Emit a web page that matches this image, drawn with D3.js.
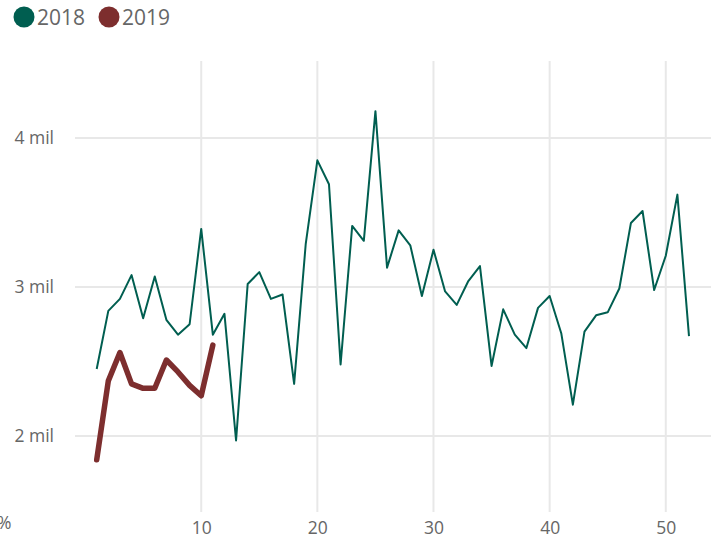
<!DOCTYPE html>
<html>
<head>
<meta charset="utf-8">
<script src="https://cdn.jsdelivr.net/npm/d3@7"></script>
<style>
  body { margin: 0; background: #fff; }
  svg { display: block; font-family: "Segoe UI", "Open Sans", sans-serif; }
</style>
</head>
<body>
<svg id="chart" width="711" height="544"></svg>
<script>
// weekly values, in millions
const weeks2018 = d3.range(1, 53)
const values2018 = [2.45, 2.84, 2.92, 3.08, 2.79, 3.07, 2.78, 2.68, 2.75, 3.39,
  2.68, 2.82, 1.97, 3.02, 3.10, 2.92, 2.95, 2.35, 3.29, 3.85,
  3.69, 2.48, 3.41, 3.31, 4.18, 3.13, 3.38, 3.28, 2.94, 3.25,
  2.97, 2.88, 3.04, 3.14, 2.47, 2.85, 2.68, 2.59, 2.86, 2.94,
  2.69, 2.21, 2.70, 2.81, 2.83, 2.99, 3.43, 3.51, 2.98, 3.21,
  3.62, 2.67]
const weeks2019 = d3.range(1, 12)
const values2019 = [1.84, 2.37, 2.56, 2.35, 2.32, 2.32, 2.51, 2.43, 2.34, 2.27, 2.61]

const xTicks = [10, 20, 30, 40, 50]
const yTicks = [2, 3, 4]
const seriesNames = ['2018', '2019']
const colors = {'2018': '#005e50', '2019': '#7d2e2e'}

const svg = d3.select('#chart')

// plot area
const plotLeft = 75, plotRight = 711, plotTop = 61, plotBottom = 512

const x = d3.scaleLinear().domain([1, 52]).range([96.7, 689])
const y = d3.scaleLinear().domain([1.5, 4.5]).range([510.5, 63.5])

// GRID
svg.append('g')
  .selectAll('line')
  .data(yTicks)
  .join('line')
  .attr('x1', plotLeft).attr('x2', plotRight)
  .attr('y1', d => y(d)).attr('y2', d => y(d))
  .attr('stroke', '#e8e8e8')
  .attr('stroke-width', 2)

svg.append('g')
  .selectAll('line')
  .data(xTicks)
  .join('line')
  .attr('x1', d => x(d)).attr('x2', d => x(d))
  .attr('y1', plotTop).attr('y2', plotBottom)
  .attr('stroke', '#e8e8e8')
  .attr('stroke-width', 2)

// AXIS LABELS
const yAxis = svg.append('g')
  .attr('transform', 'translate(54,0)')
  .call(d3.axisLeft(y).tickValues(yTicks).tickSize(0).tickPadding(0).tickFormat(d => d + ' mil'))
yAxis.select('.domain').remove()
yAxis.selectAll('text')
  .attr('fill', '#666')
  .attr('font-size', '17.5px')
  .attr('font-family', '"Segoe UI", "Open Sans", sans-serif')

const xAxis = svg.append('g')
  .attr('transform', 'translate(0,522)')
  .call(d3.axisBottom(x).tickValues(xTicks).tickSize(0).tickPadding(0))
xAxis.select('.domain').remove()
xAxis.selectAll('text')
  .attr('fill', '#666')
  .attr('font-size', '17.5px')
  .attr('font-family', '"Segoe UI", "Open Sans", sans-serif')

svg.append('text')
  .attr('x', -3)
  .attr('y', 529)
  .attr('fill', '#666')
  .attr('font-size', '17.5px')
  .text('%')

// LINES
const line = d3.line()
  .x(d => x(d[0]))
  .y(d => y(d[1]))

svg.append('path')
  .datum(d3.zip(weeks2018, values2018))
  .attr('fill', 'none')
  .attr('stroke', colors['2018'])
  .attr('stroke-width', 2)
  .attr('stroke-linejoin', 'round')
  .attr('d', line)

svg.append('path')
  .datum(d3.zip(weeks2019, values2019))
  .attr('fill', 'none')
  .attr('stroke', colors['2019'])
  .attr('stroke-width', 5.5)
  .attr('stroke-linejoin', 'round')
  .attr('stroke-linecap', 'round')
  .attr('d', line)

// LEGEND
const legend = svg.append('g')
const legendX = [24, 109]
seriesNames.forEach((name, i) => {
  legend.append('circle')
    .attr('cx', legendX[i]).attr('cy', 17).attr('r', 10.5)
    .attr('fill', colors[name])
  legend.append('text')
    .attr('x', legendX[i] + 13).attr('y', 25)
    .attr('fill', '#666')
    .attr('font-size', '21px')
    .text(name)
})
</script>
</body>
</html>
